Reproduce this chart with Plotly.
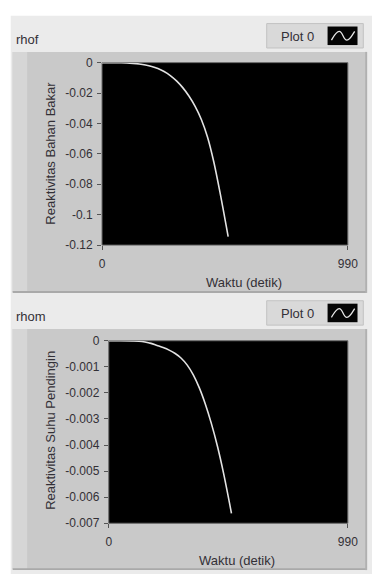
import plotly.graph_objects as go

# ---------------- data ----------------
waktu_f = [0, 25, 50, 75, 100, 125, 150, 175, 200, 225, 250, 275, 300, 325, 350, 375, 400, 425, 450, 475, 500, 508]
rhof = [0, 0, -0.00003, -0.0001, -0.0002, -0.00048, -0.00091, -0.00156, -0.00251, -0.00389, -0.00583,
        -0.00848, -0.0120, -0.01644, -0.02194, -0.02875, -0.0374, -0.0491, -0.0652, -0.0852, -0.1072, -0.1144]

waktu_m = [0, 50, 100, 125, 150, 175, 200, 225, 250, 275, 300, 325, 350, 375, 400, 425, 450, 475, 500, 508]
rhom = [0, 0, -0.00001, -0.00002, -0.00005, -0.0001, -0.00018, -0.000259, -0.000359, -0.00049, -0.000671,
        -0.000934, -0.001309, -0.001809, -0.002434, -0.003178, -0.004047, -0.005066, -0.006228, -0.00662]

x_ticks = [0, 990]
x_ticktext = ["0", "990"]
yf_ticks = [0, -0.02, -0.04, -0.06, -0.08, -0.1, -0.12]
yf_ticktext = ["0", "-0.02", "-0.04", "-0.06", "-0.08", "-0.1", "-0.12"]
ym_ticks = [0, -0.001, -0.002, -0.003, -0.004, -0.005, -0.006, -0.007]
ym_ticktext = ["0", "-0.001", "-0.002", "-0.003", "-0.004", "-0.005", "-0.006", "-0.007"]

W, H = 382, 581
FONT = "Liberation Sans"
TXT = "#333036"


def px(x):
    return x / W


def py(y):
    return 1 - y / H


fig = go.Figure()
fig.add_trace(go.Scatter(x=waktu_f, y=rhof, mode="lines",
                         line=dict(color="#e2e2e2", width=1.6, shape="spline", smoothing=0.8),
                         xaxis="x", yaxis="y", showlegend=False))
fig.add_trace(go.Scatter(x=waktu_m, y=rhom, mode="lines",
                         line=dict(color="#e2e2e2", width=1.6, shape="spline", smoothing=0.8),
                         xaxis="x2", yaxis="y2", showlegend=False))

shapes = []


def rect(x0, y0, x1, y1, fill, line=None):
    shapes.append(dict(type="rect", xref="paper", yref="paper", x0=px(x0), x1=px(x1), y0=py(y1), y1=py(y0),
                       fillcolor=fill, line=dict(width=1 if line else 0, color=line or fill), layer="below"))


# front panel background
rect(8, 9, 382, 581, "#ebebeb")

annotations = []


def text(x, y, s, size=11, anchor="center", angle=0, color=TXT):
    annotations.append(dict(xref="paper", yref="paper", x=px(x), y=py(y), text=s, showarrow=False,
                            xanchor=anchor, yanchor="middle", textangle=angle,
                            font=dict(family=FONT, size=size, color=color)))


def glyph(x0, y0):
    # small wave icon inside the legend swatch
    pts = [(x0 + 4, y0 + 14), (x0 + 12, y0 + 5), (x0 + 20, y0 + 14), (x0 + 28, y0 + 5)]
    path = "M {} {}".format(px(pts[0][0]), py(pts[0][1]))
    path += " C {} {} {} {} {} {}".format(px(pts[0][0] + 3), py(pts[0][1] - 5), px(pts[1][0] - 3), py(pts[1][1]),
                                          px(pts[1][0]), py(pts[1][1]))
    path += " C {} {} {} {} {} {}".format(px(pts[1][0] + 4), py(pts[1][1]), px(pts[2][0] - 4), py(pts[2][1]),
                                          px(pts[2][0]), py(pts[2][1]))
    path += " C {} {} {} {} {} {}".format(px(pts[2][0] + 3), py(pts[2][1]), px(pts[3][0] - 3), py(pts[3][1] + 5),
                                          px(pts[3][0]), py(pts[3][1]))
    shapes.append(dict(type="path", xref="paper", yref="paper", path=path,
                       line=dict(color="#e8e8e8", width=1.3), layer="above"))


def panel(top, label, ytitle, xa, ya, title_y):
    # frame of graph
    rect(10, top + 37, 376, top + 283, "#c9c9c9")
    rect(10, top + 37, 25, top + 283, "#d6d6d6")
    rect(10, top + 282, 376, top + 284, "#a9a9a9")
    rect(375, top + 37, 377, top + 284, "#b0b0b0")
    # black plot area
    shapes.append(dict(type="rect", xref=xa + " domain", yref=ya + " domain", x0=0, x1=1, y0=0, y1=1,
                       fillcolor="black", line=dict(width=1, color="#6a6a6a"), layer="below"))
    # legend box
    rect(273, top + 8, 373, top + 33, "#d9d9d9", "#c2c2c2")
    rect(336, top + 11, 367, top + 30, "#050505")
    glyph(336, top + 11)
    text(305, top + 21, "Plot 0", 13)
    text(11, top + 24, label, 13, anchor="left")
    text(49, title_y, ytitle, 13, angle=-90)


panel(9, "rhof", "Reaktivitas Bahan Bakar", "x", "y", 150)
panel(293, "rhom", "Reaktivitas Suhu Pendingin", "x2", "y2", 434)
text(250, 282, "Waktu (detik)", 13)
text(242, 567, "Waktu (detik)", 13)

axis_common = dict(showgrid=False, zeroline=False, ticks="outside", ticklen=4, tickcolor="#555",
                   tickfont=dict(family=FONT, size=12, color=TXT), showline=False)

fig.update_layout(
    width=W, height=H, margin=dict(l=0, r=0, t=0, b=0),
    paper_bgcolor="white", plot_bgcolor="rgba(0,0,0,0)",
    showlegend=False,
    shapes=shapes, annotations=annotations,
    xaxis=dict(domain=[px(102.5), px(357)], range=[0, 990], tickvals=x_ticks, ticktext=x_ticktext,
               anchor="y", ticklabelstandoff=3, **axis_common),
    yaxis=dict(domain=[py(244), py(57)], range=[-0.12, 0], tickvals=yf_ticks, ticktext=yf_ticktext,
               anchor="x", ticklabelstandoff=2, **axis_common),
    xaxis2=dict(domain=[px(109.5), px(357)], range=[0, 990], tickvals=x_ticks, ticktext=x_ticktext,
                anchor="y2", ticklabelstandoff=3, **axis_common),
    yaxis2=dict(domain=[py(529), py(342)], range=[-0.007, 0], tickvals=ym_ticks, ticktext=ym_ticktext,
                anchor="x2", ticklabelstandoff=2, **axis_common),
)

fig.write_html("out.html", config={"displayModeBar": False},
               post_script="document.body.style.margin='0px';")
